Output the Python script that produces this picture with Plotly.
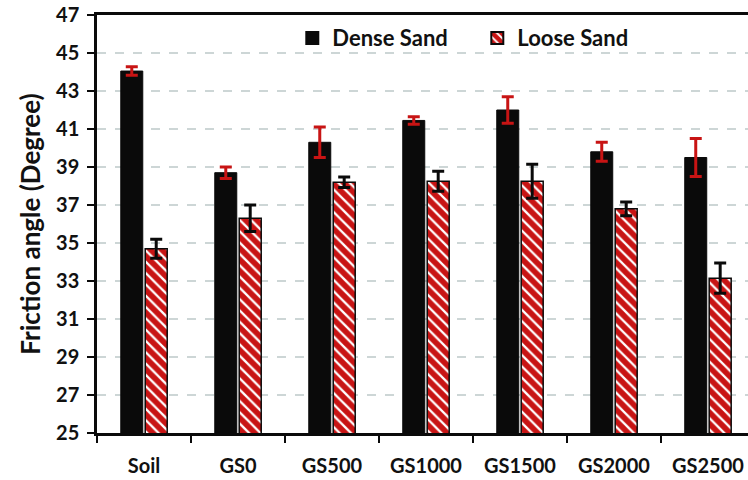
import plotly.graph_objects as go

# Sample groups and measured friction angles (degrees)
categories = ["Soil", "GS0", "GS500", "GS1000", "GS1500", "GS2000", "GS2500"]
dense_sand = [44.05, 38.7, 40.3, 41.45, 42.0, 39.8, 39.5]
dense_err = [0.22, 0.3, 0.8, 0.2, 0.7, 0.5, 1.0]
loose_sand = [34.7, 36.3, 38.2, 38.25, 38.25, 36.8, 33.15]
loose_err = [0.5, 0.7, 0.28, 0.52, 0.9, 0.36, 0.8]

y_ticks = list(range(25, 48, 2))

FONT = "Lato"
RED = "#c81414"

fig = go.Figure()
fig.add_trace(go.Bar(
    name="Dense Sand",
    x=categories,
    y=dense_sand,
    marker=dict(color="#0a0a0a", line=dict(color="#0a0a0a", width=1)),
    error_y=dict(type="data", array=dense_err, color=RED, thickness=3, width=6),
))
fig.add_trace(go.Bar(
    name="Loose Sand",
    x=categories,
    y=loose_sand,
    marker=dict(
        color="white",
        line=dict(color="#0a0a0a", width=1.5),
        pattern=dict(shape="\\", fgcolor=RED, bgcolor="white", fgopacity=1,
                     size=8, solidity=0.72),
    ),
    error_y=dict(type="data", array=loose_err, color="#0a0a0a", thickness=3, width=6),
))

fig.update_layout(
    width=748,
    height=480,
    barmode="group",
    bargap=0.48,
    bargroupgap=0.1,
    plot_bgcolor="white",
    paper_bgcolor="white",
    margin=dict(l=97, r=0, t=15, b=47),
    font=dict(family=FONT, color="#111111", size=20),
    showlegend=True,
    legend=dict(
        orientation="h",
        x=0.3,
        y=0.995,
        xanchor="left",
        yanchor="top",
        font=dict(family=FONT, size=22, color="#111111", weight="bold"),
        bgcolor="rgba(0,0,0,0)",
        entrywidth=140,
        itemsizing="constant",
    ),
    xaxis=dict(
        range=[-0.5, 6.426],
        showline=True,
        linecolor="#0a0a0a",
        linewidth=2.5,
        mirror=True,
        ticks="outside",
        tickson="boundaries",
        ticklen=7,
        tickwidth=2,
        tickcolor="#0a0a0a",
        ticklabelstandoff=13,
        tickfont=dict(family=FONT, size=20, weight="bold"),
        showgrid=False,
    ),
    yaxis=dict(
        range=[25, 47],
        tickvals=y_ticks,
        showline=True,
        linecolor="#0a0a0a",
        linewidth=2.5,
        ticks="outside",
        ticklen=7,
        tickwidth=2,
        tickcolor="#0a0a0a",
        ticklabelstandoff=4,
        tickfont=dict(family=FONT, size=20, weight="bold"),
        showgrid=True,
        gridcolor="#cdd6d6",
        gridwidth=1.5,
        griddash="dash",
        zeroline=False,
        title=dict(
            text="Friction angle (Degree)",
            font=dict(family=FONT, size=26, weight="bold"),
            standoff=8,
        ),
    ),
)

fig.write_html("out.html")
